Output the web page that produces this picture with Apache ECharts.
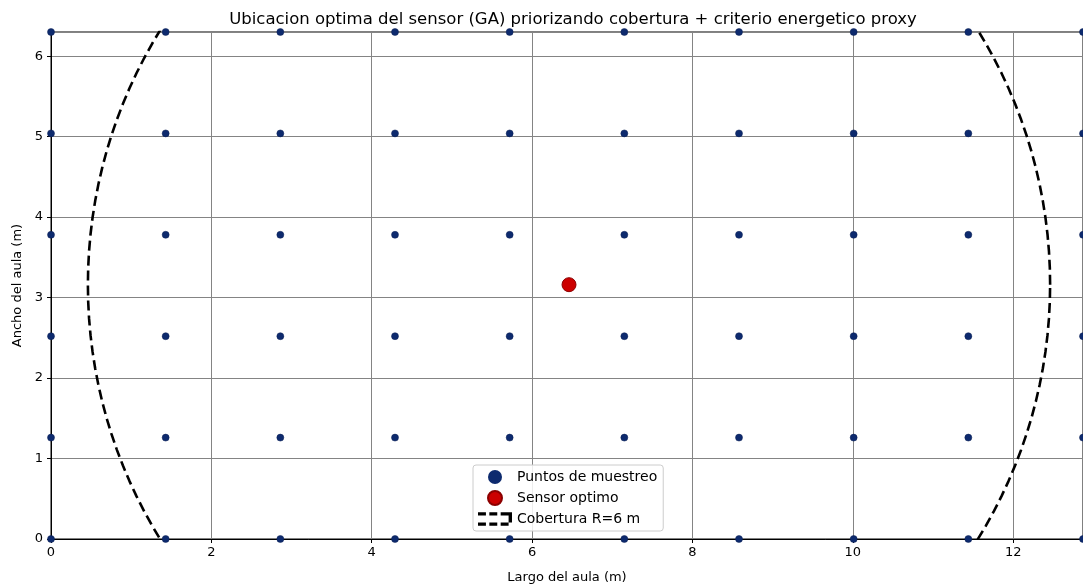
<!DOCTYPE html>
<html>
<head>
<meta charset="utf-8">
<script src="https://cdn.jsdelivr.net/npm/echarts@6/dist/echarts.min.js"></script>
<style>
  html, body { margin: 0; padding: 0; background: #fff; }
  #chart { width: 1083px; height: 584px; }
</style>
</head>
<body>
<div id="chart"></div>
<script>
// puntos de muestreo (malla)
const gridX = [0, 1.43, 2.86, 4.29, 5.72, 7.15, 8.58, 10.01, 11.44, 12.87];
const gridY = [0, 1.26, 2.52, 3.78, 5.04, 6.3];
// sensor optimo encontrado por el GA
const sensorPos = [6.46, 3.16];
const radioCobertura = 6;

const xTicks = [0, 2, 4, 6, 8, 10, 12];
const yTicks = [0, 1, 2, 3, 4, 5, 6];

const font = 'DejaVu Sans';

let puntos = [];
for (let i = 0; i < gridX.length; i++) {
  for (let j = 0; j < gridY.length; j++) {
    puntos.push([gridX[i], gridY[j]]);
  }
}

// contorno del circulo de cobertura
let circulo = [];
for (let k = 0; k <= 360; k += 2) {
  const t = k * Math.PI / 180;
  circulo.push([sensorPos[0] + radioCobertura * Math.cos(t), sensorPos[1] + radioCobertura * Math.sin(t)]);
}

const chart = echarts.init(document.getElementById('chart'));

chart.setOption({
  animation: false,
  title: {
    text: 'Ubicacion optima del sensor (GA) priorizando cobertura + criterio energetico proxy',
    left: 568,
    textAlign: 'center',
    top: 6,
    textStyle: { fontFamily: font, fontSize: 16.5, fontWeight: 'normal', color: '#000' }
  },
  legend: {
    orient: 'vertical',
    left: 473,
    top: 465,
    padding: [5, 6, 5, 5],
    itemGap: 6,
    itemWidth: 34,
    itemHeight: 14,
    borderColor: '#cccccc',
    borderWidth: 1,
    borderRadius: 3,
    backgroundColor: 'rgba(255,255,255,0.85)',
    textStyle: { fontFamily: font, fontSize: 14, color: '#000' },
    data: [
      { name: 'Puntos de muestreo', icon: 'circle', itemStyle: { borderWidth: 0 } },
      { name: 'Sensor optimo', icon: 'circle' },
      {
        name: 'Cobertura R=6 m',
        icon: 'path://M0,0h7v3h-7z M10,0h7v3h-7z M20,0h7v3h-7z M27,0h3v9h-3z M0,9h7v3h-7z M10,9h7v3h-7z M20,9h7v3h-7z',
        itemStyle: { color: '#000', borderWidth: 0 }
      }
    ]
  },
  grid: {
    left: 51,
    right: 0,
    top: 32,
    bottom: 45,
    outerBoundsMode: 'none',
    show: true,
    borderColor: '#000',
    borderWidth: 1
  },
  xAxis: {
    type: 'value',
    min: 0,
    max: 12.87,
    interval: 2,
    name: 'Largo del aula (m)',
    nameLocation: 'middle',
    nameGap: 32,
    nameTextStyle: { fontFamily: font, fontSize: 13, color: '#000' },
    axisLine: { show: true, lineStyle: { color: '#000', width: 1 } },
    axisTick: { show: true, length: 4, lineStyle: { color: '#000' } },
    axisLabel: {
      fontFamily: font, fontSize: 13, color: '#000', margin: 7,
      showMaxLabel: false,
      formatter: v => xTicks.indexOf(v) >= 0 ? String(v) : ''
    },
    splitLine: { show: true, lineStyle: { color: '#848484', width: 1 } }
  },
  yAxis: {
    type: 'value',
    min: 0,
    max: 6.3,
    interval: 1,
    name: 'Ancho del aula (m)',
    nameLocation: 'middle',
    nameGap: 27,
    nameTextStyle: { fontFamily: font, fontSize: 13, color: '#000' },
    axisLine: { show: true, lineStyle: { color: '#000', width: 1 } },
    axisTick: { show: true, length: 4, lineStyle: { color: '#000' } },
    axisLabel: {
      fontFamily: font, fontSize: 13, color: '#000', margin: 8,
      showMaxLabel: false,
      formatter: v => yTicks.indexOf(v) >= 0 ? String(v) : ''
    },
    splitLine: { show: true, lineStyle: { color: '#848484', width: 1 } }
  },
  series: [
    {
      name: 'Puntos de muestreo',
      type: 'scatter',
      data: puntos,
      symbolSize: 7,
      itemStyle: { color: '#0d2a6e', borderColor: '#0a1f52', borderWidth: 0.5, opacity: 1 },
      z: 3
    },
    {
      name: 'Sensor optimo',
      type: 'scatter',
      data: [sensorPos],
      symbolSize: 14,
      itemStyle: { color: '#cc0000', borderColor: '#8b0000', borderWidth: 1, opacity: 1 },
      z: 5
    },
    {
      name: 'Cobertura R=6 m',
      type: 'line',
      data: circulo,
      showSymbol: false,
      symbol: 'none',
      clip: true,
      smooth: false,
      lineStyle: { color: '#000', width: 2.6, type: [10, 5] },
      itemStyle: { color: '#000' },
      z: 4
    }
  ]
});
</script>
</body>
</html>
